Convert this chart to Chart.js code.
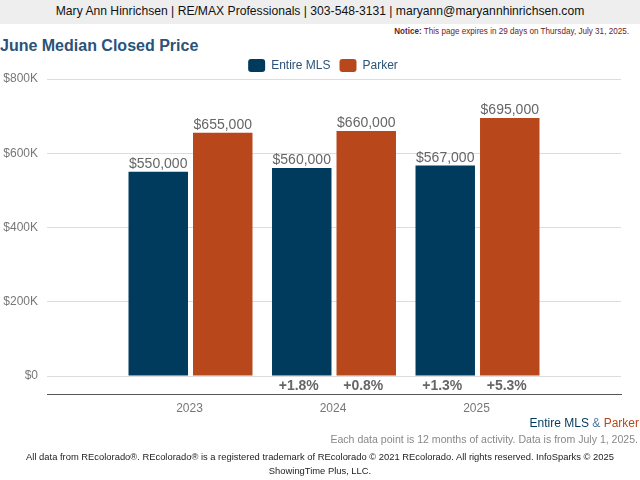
<!DOCTYPE html>
<html>
<head>
<meta charset="utf-8">
<script src="https://cdn.jsdelivr.net/npm/chart.js@4"></script>
<style>
    body { margin: 0; width: 640px; height: 480px; overflow: hidden; background: #fff; font-family: "Liberation Sans", Arial, sans-serif; position: relative; }
    div { position: absolute; white-space: nowrap; }
    #header { left: 0; top: 0; width: 640px; height: 24px; line-height: 23px; background: #eeeeee; color: #111; font-size: 12.15px; text-align: center; }
    #notice { right: 11px; top: 26px; font-size: 8.15px; line-height: 12px; color: #6e1a1f; }
    #title { left: 0; top: 36px; font-size: 16px; line-height: 20px; font-weight: bold; color: #2b5278; }
    #chartBox { left: 0; top: 40px; width: 640px; height: 383px; }
    #tag { right: 1px; top: 416px; font-size: 12px; line-height: 14px; color: #003a5d; }
    #tag .amp { color: #4a73a0; }
    #tag .town { color: #b8471c; }
    #each { right: 2px; top: 432px; font-size: 10.55px; line-height: 14px; color: #888; }
    #legal { left: 0; top: 450px; width: 640px; text-align: center; font-size: 9.4px; line-height: 14px; color: #222; }
</style>
</head>
<body>
<div id="header">Mary Ann Hinrichsen | RE/MAX Professionals | 303-548-3131 | maryann@maryannhinrichsen.com</div>
<div id="notice"><b>Notice:</b> This page expires in 29 days on Thursday, July 31, 2025.</div>
<div id="title">June Median Closed Price</div>
<div id="chartBox"><canvas id="chart" width="640" height="383"></canvas></div>
<div id="tag">Entire MLS <span class="amp">&amp;</span> <span class="town">Parker</span></div>
<div id="each">Each data point is 12 months of activity. Data is from July 1, 2025.</div>
<div id="legal">All data from REcolorado®. REcolorado® is a registered trademark of REcolorado © 2021 REcolorado. All rights reserved. InfoSparks © 2025<br>ShowingTime Plus, LLC.</div>
<script>
// blank categories either side leave the empty space at the ends of the axis
const years = ['', '2023', '2024', '2025', ''];
const entireMls = [null, 550000, 560000, 567000, null];
const parker = [null, 655000, 660000, 695000, null];
const entireChange = ['', '', '+1.8%', '+1.3%', ''];
const parkerChange = ['', '', '+0.8%', '+5.3%', ''];
const yTicks = [-50000, 0, 200000, 400000, 600000, 800000];

const FONT = '"Liberation Sans", Arial, sans-serif';

// value above each bar, percent change below the zero line
const barLabels = {
    id: 'barLabels',
    afterLayout(chart) {
        // legend sits a little right of the plot centre and closer to it
        chart.legend.left += 12;
        chart.legend.right += 12;
        chart.legend.top += 3;
        chart.legend.bottom += 3;
    },
    afterDatasetsDraw(chart) {
        const ctx = chart.ctx;
        const zero = chart.scales.y.getPixelForValue(0);
        const changes = [entireChange, parkerChange];
        ctx.save();
        ctx.textAlign = 'center';
        chart.data.datasets.forEach((ds, i) => {
            chart.getDatasetMeta(i).data.forEach((bar, j) => {
                if (ds.data[j] == null) return;
                ctx.font = '14px ' + FONT;
                ctx.fillStyle = '#666666';
                ctx.textBaseline = 'bottom';
                ctx.fillText('$' + ds.data[j].toLocaleString('en-US'), bar.x, bar.y - 0.5);
                ctx.font = 'bold 14px ' + FONT;
                ctx.textBaseline = 'middle';
                ctx.fillText(changes[i][j], bar.x - 3, zero + 10);
            });
        });
        ctx.restore();
    }
};

new Chart(document.getElementById('chart'), {
    type: 'bar',
    data: {
        labels: years,
        datasets: [
            { label: 'Entire MLS', data: entireMls, backgroundColor: '#003a5d' },
            { label: 'Parker', data: parker, backgroundColor: '#b8471c' }
        ]
    },
    options: {
        responsive: false,
        animation: false,
        layout: { padding: { top: 7, right: 19, left: 1, bottom: 0 } },
        datasets: { bar: { categoryPercentage: 0.899, barPercentage: 0.922 } },
        plugins: {
            tooltip: { enabled: false },
            legend: {
                position: 'top',
                labels: {
                    font: { family: FONT, size: 12 },
                    color: '#2b5278',
                    boxWidth: 17,
                    boxHeight: 13,
                    useBorderRadius: true,
                    borderRadius: 3,
                    padding: 9
                }
            }
        },
        scales: {
            x: {
                offset: false,
                grid: { display: false, drawTicks: false },
                border: { display: true, color: '#555555' },
                ticks: { color: '#777777', font: { family: FONT, size: 12 }, padding: 7, labelOffset: -1, maxRotation: 0, autoSkip: false }
            },
            y: {
                min: -50000,
                max: 800000,
                afterBuildTicks(scale) { scale.ticks = yTicks.map(v => ({ value: v })); },
                afterFit(scale) { scale.width = 46; },
                border: { display: false },
                grid: {
                    drawTicks: false,
                    color: ctx => ctx.tick.value < 0 ? '#555555' : '#dddddd'
                },
                ticks: {
                    color: '#777777',
                    font: { family: FONT, size: 12 },
                    padding: 9,
                    callback: v => v < 0 ? '' : (v === 0 ? '$0' : '$' + v / 1000 + 'K')
                }
            }
        }
    },
    plugins: [barLabels]
});
</script>
</body>
</html>
